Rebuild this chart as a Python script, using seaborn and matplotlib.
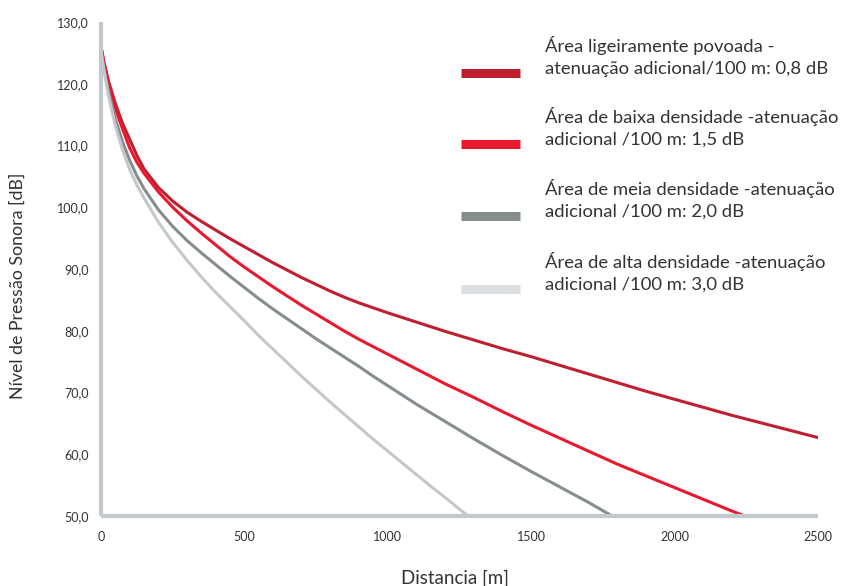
import numpy as np
import pandas as pd
import matplotlib
matplotlib.use('Agg')
import matplotlib.pyplot as plt
import seaborn as sns
from matplotlib.lines import Line2D
from matplotlib.ticker import FuncFormatter

# Values (distance in m, level in dB)
dist_08 = [0, 10, 25, 50, 75, 100, 125, 150, 200, 250, 300, 350, 400, 450, 500, 550, 600,
           650, 700, 750, 800, 850, 900, 950, 1000, 1100, 1200, 1300, 1400, 1500, 1600,
           1700, 1800, 1900, 2000, 2100, 2200, 2300, 2400, 2500]
level_08 = [126.0, 123.6, 120.6, 116.8, 113.6, 111.0, 108.4, 106.2, 103.2, 101.0, 99.2, 97.7,
            96.3, 94.9, 93.6, 92.3, 91.0, 89.8, 88.6, 87.5, 86.4, 85.4, 84.5, 83.7, 82.9,
            81.4, 79.9, 78.5, 77.1, 75.8, 74.4, 73.0, 71.6, 70.2, 68.9, 67.6, 66.3, 65.1,
            63.9, 62.7]

dist_15 = [0, 10, 25, 50, 75, 100, 125, 150, 200, 250, 300, 350, 400, 450, 500, 550, 600,
           650, 700, 750, 800, 850, 900, 950, 1000, 1100, 1200, 1300, 1400, 1500, 1600,
           1700, 1800, 1900, 2000, 2100, 2200, 2245]
level_15 = [126.0, 123.4, 120.3, 116.0, 112.7, 109.6, 107.3, 105.5, 102.5, 100.0, 97.8, 95.8,
            93.9, 92.0, 90.3, 88.7, 87.1, 85.6, 84.1, 82.7, 81.3, 79.9, 78.6, 77.4, 76.2,
            73.8, 71.4, 69.2, 66.9, 64.7, 62.6, 60.5, 58.4, 56.5, 54.6, 52.7, 50.8, 50.0]

dist_20 = [0, 10, 25, 50, 75, 100, 125, 150, 200, 250, 300, 350, 400, 450, 500, 550, 600,
           650, 700, 750, 800, 850, 900, 950, 1000, 1100, 1200, 1300, 1400, 1500, 1600,
           1700, 1782]
level_20 = [125.6, 122.6, 119.0, 114.3, 110.6, 107.6, 105.1, 103.0, 99.6, 96.9, 94.6, 92.6,
            90.7, 88.8, 87.0, 85.2, 83.5, 81.9, 80.3, 78.7, 77.2, 75.7, 74.2, 72.6, 71.1,
            68.1, 65.3, 62.5, 59.8, 57.2, 54.7, 52.2, 50.0]

dist_30 = [0, 10, 25, 50, 75, 100, 125, 150, 200, 250, 300, 350, 400, 450, 500, 550, 600,
           650, 700, 750, 800, 850, 900, 950, 1000, 1050, 1100, 1150, 1200, 1250, 1280]
level_30 = [125.3, 122.2, 118.3, 113.2, 109.3, 106.1, 103.6, 101.5, 97.6, 94.3, 91.4, 88.7,
            86.2, 83.9, 81.6, 79.2, 77.0, 74.8, 72.6, 70.5, 68.4, 66.4, 64.4, 62.4, 60.5,
            58.6, 56.7, 54.8, 53.0, 51.1, 50.0]

labels = [
    'Área ligeiramente povoada -\natenuação adicional/100 m: 0,8 dB',
    'Área de baixa densidade -atenuação\nadicional /100 m: 1,5 dB',
    'Área de meia densidade -atenuação\nadicional /100 m: 2,0 dB',
    'Área de alta densidade -atenuação\nadicional /100 m: 3,0 dB',
]
x_ticks = [0, 500, 1000, 1500, 2000, 2500]
y_ticks = [50, 60, 70, 80, 90, 100, 110, 120, 130]

line_colors = ['#c01f30', '#e8192f', '#858d8d', '#c3c8cd']
legend_colors = ['#c01f30', '#e8192f', '#858d8d', '#dcdfe2']

# long-form table for seaborn
parts = []
for d, l, lab in zip([dist_08, dist_15, dist_20, dist_30],
                     [level_08, level_15, level_20, level_30], labels):
    parts.append(pd.DataFrame({'dist': d, 'level': l, 'serie': lab}))
df = pd.concat(parts, ignore_index=True)

sns.set_style('white')
plt.rcParams['font.family'] = ['Lato', 'DejaVu Sans']
text_color = '#333333'
axis_color = '#c3c8cd'

fig = plt.figure(figsize=(8.42, 5.86), dpi=100)
ax = fig.add_axes([101 / 842, 1 - 516 / 586, 717 / 842, 494 / 586])

sns.lineplot(data=df, x='dist', y='level', hue='serie', palette=line_colors,
             linewidth=2.2, legend=False, ax=ax, sort=False)

ax.set_xlim(0, 2500)
ax.set_ylim(50, 130)
ax.set_xticks(x_ticks)
ax.set_yticks(y_ticks)
ax.yaxis.set_major_formatter(FuncFormatter(lambda v, p: f'{v:.1f}'.replace('.', ',')))

for side in ['top', 'right']:
    ax.spines[side].set_visible(False)
for side in ['left', 'bottom']:
    ax.spines[side].set_color(axis_color)
    ax.spines[side].set_linewidth(3)
    ax.spines[side].set_capstyle('butt')

ax.tick_params(axis='x', direction='out', length=5, width=1.5, color=axis_color,
               labelsize=9, labelcolor=text_color, pad=6)
ax.tick_params(axis='y', length=0, labelsize=9, labelcolor=text_color, pad=9)

ax.set_xlabel('Distancia [m]', fontsize=13.5, color=text_color)
ax.xaxis.set_label_coords(0.494, -0.108)
ax.set_ylabel('Nível de Pressão Sonora [dB]', fontsize=12.8, color=text_color)
ax.yaxis.set_label_coords(-0.105, 0.466)

# custom legend on the right, handle next to the second text line
entry_tops = [36, 107, 179, 252]
for top, lab, col in zip(entry_tops, labels, legend_colors):
    ymark = 1 - (top + 37) / 586
    fig.add_artist(Line2D([461 / 842, 520 / 842], [ymark, ymark], color=col,
                          linewidth=6.5, solid_capstyle='butt'))
    fig.text(545 / 842, 1 - top / 586, lab, fontsize=13.3, color=text_color,
             va='top', ha='left', linespacing=1.45)

fig.savefig('out.png', dpi=100)
